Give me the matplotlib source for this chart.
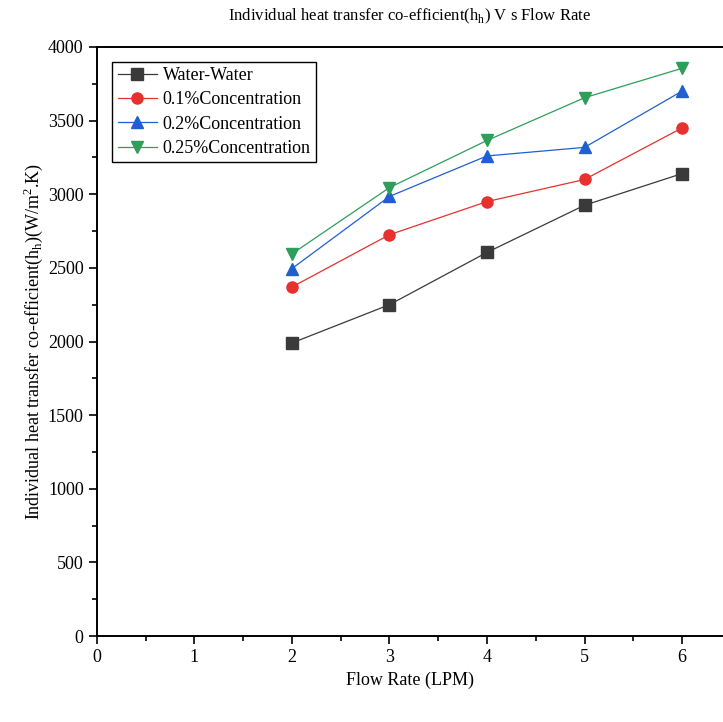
import numpy as np
import matplotlib.pyplot as plt
from matplotlib.ticker import MultipleLocator

plt.rcParams['font.family'] = ['Liberation Serif', 'DejaVu Serif']

flow = [2, 3, 4, 5, 6]
water = [1990, 2250, 2605, 2925, 3140]
conc01 = [2370, 2725, 2950, 3100, 3450]
conc02 = [2495, 2985, 3260, 3318, 3700]
conc025 = [2595, 3045, 3365, 3655, 3855]

fig = plt.figure(figsize=(7.23, 7.22), dpi=100)
ax = fig.add_axes([0.134, 0.119, 0.866, 0.816])

ax.plot(flow, water, color='#3a3a3a', marker='s', ms=8, lw=0.9, label='Water-Water')
ax.plot(flow, conc01, color='#e8302e', marker='o', ms=8, lw=0.9, label='0.1%Concentration')
ax.plot(flow, conc02, color='#1f5fd1', marker='^', ms=9, lw=0.9, label='0.2%Concentration')
ax.plot(flow, conc025, color='#2e9e5b', marker='v', ms=9, lw=0.9, label='0.25%Concentration')

ax.set_xlim(0, 6.42)
ax.set_ylim(0, 4000)
ax.xaxis.set_major_locator(MultipleLocator(1))
ax.xaxis.set_minor_locator(MultipleLocator(0.5))
ax.yaxis.set_major_locator(MultipleLocator(500))
ax.yaxis.set_minor_locator(MultipleLocator(250))
ax.tick_params(which='major', direction='out', length=6, width=1.2, labelsize=13)
ax.tick_params(which='minor', direction='out', length=3.5, width=1.2)
ax.spines['right'].set_visible(False)
for s in ['left', 'bottom', 'top']:
    ax.spines[s].set_linewidth(1.4)

ax.set_title('Individual heat transfer co-efficient(h$_\\mathregular{h}$) V s Flow Rate', fontsize=12, pad=19)
ax.set_xlabel('Flow Rate (LPM)', fontsize=13, labelpad=4)
ax.set_ylabel('Individual heat transfer co-efficient(h$_\\mathregular{h}$)(W/m$^\\mathregular{2}$.K)', fontsize=13, labelpad=2)

leg = ax.legend(loc='upper left', bbox_to_anchor=(0.01, 0.99), fontsize=13, fancybox=False,
                edgecolor='black', framealpha=1, handlelength=2.2, borderpad=0.3,
                labelspacing=0.4, handletextpad=0.3)
leg.get_frame().set_linewidth(1.0)

fig.savefig('out.png', dpi=100)
